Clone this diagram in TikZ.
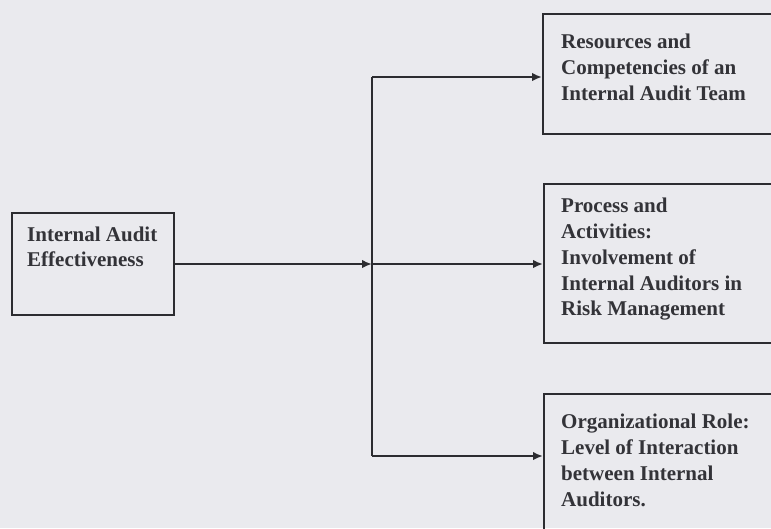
\documentclass[tikz,border=0pt]{standalone}
\usepackage{fontspec}
\setmainfont{Liberation Serif}
\usetikzlibrary{arrows.meta}
\definecolor{bgpaper}{HTML}{EAEAEE}
\definecolor{ink}{HTML}{2C2C30}
\definecolor{txt}{HTML}{333338}
\tikzset{
  box/.style={draw=ink, line width=2.1pt, fill=none, inner sep=0pt, anchor=north west},
  lbl/.style={anchor=north west, inner sep=0pt, align=left, text=txt,
              font=\fontsize{21}{25.8}\selectfont\bfseries},
  conn/.style={draw=ink, line width=2.1pt},
  arr/.style={conn, -{Latex[length=10pt,width=8.5pt]}},
}
\begin{document}
\begin{tikzpicture}[x=1pt,y=-1pt]
\clip (0,0) rectangle (771,528);
\fill[bgpaper] (0,0) rectangle (771,528);

% boxes
\node[box, minimum width=162pt, minimum height=102.5pt] (src) at (10.5,211.5) {};
\node[box, minimum width=260pt, minimum height=120.5pt] (b1) at (542,12.5) {};
\node[box, minimum width=260pt, minimum height=159.5pt] (b2) at (543,182.5) {};
\node[box, minimum width=260pt, minimum height=180pt] (b3) at (543,392.5) {};

% texts
\node[lbl] (tsrc) at ([shift={(16.5,14.8)}]src.north west) {Internal Audit\\Effectiveness};
\node[lbl] (t1) at ([shift={(19,21.5)}]b1.north west) {Resources and\\Competencies of an\\Internal Audit Team};
\node[lbl] (t2) at ([shift={(18,15.5)}]b2.north west) {Process and\\Activities:\\Involvement of\\Internal Auditors in\\Risk Management};
\node[lbl] (t3) at ([shift={(18,21.5)}]b3.north west) {Organizational Role:\\Level of Interaction\\between Internal\\Auditors.};

% connectors
\coordinate (vt) at (372,77);
\coordinate (vm) at (372,264);
\coordinate (vb) at (372,456);
\draw[conn] (vt) -- (vb);
\draw[arr] (src.east |- vm) -- (vm);
\draw[arr] (vt) -- (b1.west |- vt);
\draw[arr] (vm) -- (b2.west |- vm);
\draw[arr] (vb) -- (b3.west |- vb);
\end{tikzpicture}
\end{document}
